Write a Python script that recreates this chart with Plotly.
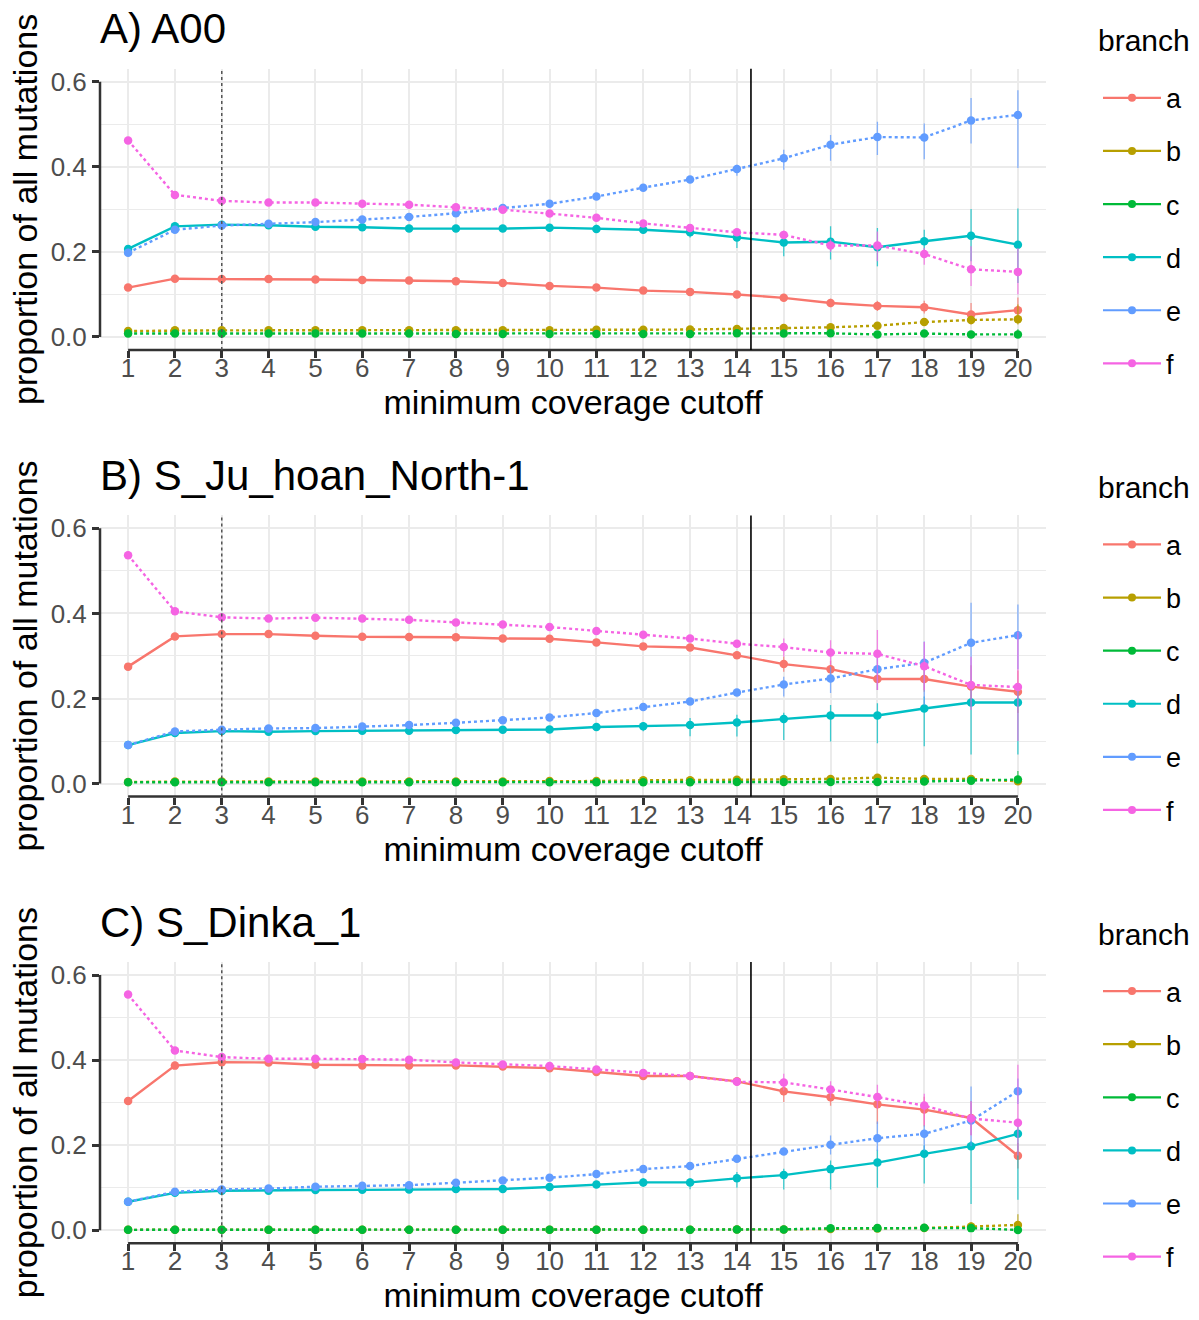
import plotly.graph_objects as go

# ---------------- data ----------------
cutoffs = list(range(1, 21))
tick_labels = [str(c) for c in cutoffs]
branches = ["a", "b", "c", "d", "e", "f"]
panel_titles = ["A) A00", "B) S_Ju_hoan_North-1", "C) S_Dinka_1"]

# Panel A (A00)
A_a = [0.116, 0.137, 0.136, 0.136, 0.135, 0.134, 0.133, 0.131, 0.127, 0.120, 0.116, 0.109, 0.106, 0.100, 0.092, 0.080, 0.073, 0.070, 0.053, 0.063]
A_b = [0.014, 0.0156, 0.0156, 0.0156, 0.0156, 0.0156, 0.0156, 0.0156, 0.0156, 0.016, 0.017, 0.017, 0.0175, 0.0187, 0.021, 0.0227, 0.0266, 0.035, 0.040, 0.0414]
A_c = [0.008, 0.008, 0.008, 0.008, 0.008, 0.008, 0.008, 0.007, 0.007, 0.007, 0.007, 0.007, 0.007, 0.0086, 0.008, 0.0086, 0.006, 0.008, 0.006, 0.006]
A_d = [0.207, 0.260, 0.264, 0.2625, 0.259, 0.258, 0.255, 0.2547, 0.2547, 0.257, 0.254, 0.252, 0.246, 0.234, 0.222, 0.224, 0.211, 0.225, 0.238, 0.217]
A_e = [0.198, 0.252, 0.262, 0.266, 0.270, 0.276, 0.282, 0.291, 0.303, 0.313, 0.330, 0.351, 0.370, 0.395, 0.420, 0.452, 0.470, 0.469, 0.509, 0.522]
A_f = [0.462, 0.334, 0.320, 0.316, 0.316, 0.313, 0.311, 0.305, 0.299, 0.290, 0.280, 0.267, 0.256, 0.246, 0.240, 0.215, 0.215, 0.195, 0.159, 0.153]
# error margins (upper / lower)
A_a_up = [0.002, 0.002, 0.002, 0.002, 0.002, 0.002, 0.002, 0.003, 0.003, 0.003, 0.004, 0.004, 0.005, 0.006, 0.008, 0.010, 0.012, 0.015, 0.027, 0.030]
A_a_dn = [0.002, 0.002, 0.002, 0.002, 0.002, 0.002, 0.002, 0.003, 0.003, 0.003, 0.004, 0.004, 0.005, 0.006, 0.008, 0.010, 0.012, 0.015, 0.023, 0.025]
A_b_up = [0.001, 0.001, 0.001, 0.001, 0.001, 0.001, 0.001, 0.001, 0.001, 0.001, 0.002, 0.002, 0.002, 0.002, 0.003, 0.003, 0.004, 0.006, 0.010, 0.035]
A_b_dn = [0.001, 0.001, 0.001, 0.001, 0.001, 0.001, 0.001, 0.001, 0.001, 0.001, 0.002, 0.002, 0.002, 0.002, 0.003, 0.003, 0.004, 0.006, 0.010, 0.012]
A_c_up = [0.001, 0.001, 0.001, 0.001, 0.001, 0.001, 0.001, 0.001, 0.001, 0.001, 0.001, 0.001, 0.001, 0.002, 0.002, 0.002, 0.002, 0.003, 0.004, 0.012]
A_c_dn = [0.001, 0.001, 0.001, 0.001, 0.001, 0.001, 0.001, 0.001, 0.001, 0.001, 0.001, 0.001, 0.001, 0.002, 0.002, 0.002, 0.002, 0.003, 0.004, 0.005]
A_d_up = [0.003, 0.003, 0.003, 0.003, 0.003, 0.003, 0.004, 0.004, 0.005, 0.006, 0.010, 0.010, 0.012, 0.014, 0.019, 0.036, 0.045, 0.027, 0.063, 0.085]
A_d_dn = [0.003, 0.003, 0.003, 0.003, 0.003, 0.003, 0.004, 0.004, 0.005, 0.006, 0.008, 0.010, 0.012, 0.025, 0.032, 0.042, 0.045, 0.027, 0.060, 0.090]
A_e_up = [0.003, 0.003, 0.003, 0.003, 0.003, 0.003, 0.004, 0.004, 0.005, 0.006, 0.006, 0.006, 0.007, 0.010, 0.020, 0.023, 0.036, 0.033, 0.053, 0.058]
A_e_dn = [0.003, 0.003, 0.003, 0.003, 0.003, 0.003, 0.004, 0.004, 0.005, 0.006, 0.006, 0.006, 0.007, 0.016, 0.027, 0.038, 0.042, 0.051, 0.054, 0.125]
A_f_up = [0.004, 0.003, 0.003, 0.003, 0.003, 0.003, 0.003, 0.004, 0.004, 0.005, 0.005, 0.006, 0.007, 0.008, 0.010, 0.015, 0.033, 0.014, 0.054, 0.056]
A_f_dn = [0.004, 0.003, 0.003, 0.003, 0.003, 0.003, 0.003, 0.004, 0.004, 0.005, 0.005, 0.006, 0.007, 0.008, 0.010, 0.015, 0.037, 0.025, 0.039, 0.053]

# Panel B (S_Ju_hoan_North-1)
B_a = [0.275, 0.346, 0.3515, 0.3515, 0.3476, 0.345, 0.3445, 0.344, 0.341, 0.3406, 0.332, 0.3226, 0.320, 0.3015, 0.281, 0.269, 0.246, 0.246, 0.228, 0.216]
B_b = [0.004, 0.005, 0.005, 0.005, 0.005, 0.005, 0.005, 0.005, 0.005, 0.006, 0.006, 0.008, 0.008, 0.009, 0.010, 0.011, 0.014, 0.011, 0.011, 0.0055]
B_c = [0.003, 0.003, 0.003, 0.003, 0.003, 0.003, 0.003, 0.003, 0.003, 0.003, 0.003, 0.003, 0.003, 0.004, 0.004, 0.004, 0.004, 0.005, 0.007, 0.0094]
B_d = [0.0906, 0.119, 0.1234, 0.122, 0.1234, 0.124, 0.124, 0.1258, 0.1266, 0.1273, 0.133, 0.135, 0.1375, 0.1437, 0.1516, 0.160, 0.160, 0.1766, 0.1906, 0.1906]
B_e = [0.0906, 0.1226, 0.1266, 0.1297, 0.1305, 0.134, 0.1375, 0.143, 0.149, 0.1555, 0.166, 0.180, 0.193, 0.214, 0.233, 0.247, 0.269, 0.284, 0.331, 0.349]
B_f = [0.537, 0.405, 0.391, 0.388, 0.390, 0.388, 0.385, 0.379, 0.374, 0.368, 0.359, 0.350, 0.341, 0.329, 0.321, 0.308, 0.305, 0.276, 0.232, 0.227]
B_a_up = [0.003, 0.003, 0.003, 0.003, 0.003, 0.003, 0.003, 0.003, 0.004, 0.004, 0.004, 0.005, 0.005, 0.008, 0.017, 0.020, 0.021, 0.025, 0.050, 0.050]
B_a_dn = [0.003, 0.003, 0.003, 0.003, 0.003, 0.003, 0.003, 0.003, 0.004, 0.004, 0.004, 0.005, 0.005, 0.008, 0.018, 0.020, 0.026, 0.030, 0.040, 0.050]
B_b_up = [0.001, 0.001, 0.001, 0.001, 0.001, 0.001, 0.001, 0.001, 0.001, 0.001, 0.001, 0.002, 0.002, 0.002, 0.003, 0.003, 0.004, 0.004, 0.005, 0.006]
B_b_dn = [0.001, 0.001, 0.001, 0.001, 0.001, 0.001, 0.001, 0.001, 0.001, 0.001, 0.001, 0.002, 0.002, 0.002, 0.003, 0.003, 0.004, 0.004, 0.005, 0.004]
B_c_up = [0.001, 0.001, 0.001, 0.001, 0.001, 0.001, 0.001, 0.001, 0.001, 0.001, 0.001, 0.001, 0.001, 0.001, 0.002, 0.002, 0.002, 0.003, 0.004, 0.020]
B_c_dn = [0.001, 0.001, 0.001, 0.001, 0.001, 0.001, 0.001, 0.001, 0.001, 0.001, 0.001, 0.001, 0.001, 0.001, 0.002, 0.002, 0.002, 0.003, 0.004, 0.006]
B_d_up = [0.002, 0.003, 0.003, 0.003, 0.003, 0.003, 0.003, 0.004, 0.004, 0.005, 0.008, 0.010, 0.017, 0.018, 0.015, 0.025, 0.029, 0.028, 0.040, 0.040]
B_d_dn = [0.002, 0.003, 0.003, 0.003, 0.003, 0.003, 0.003, 0.004, 0.004, 0.005, 0.008, 0.012, 0.026, 0.033, 0.049, 0.061, 0.065, 0.089, 0.122, 0.122]
B_e_up = [0.002, 0.003, 0.003, 0.003, 0.003, 0.003, 0.003, 0.004, 0.004, 0.004, 0.005, 0.005, 0.006, 0.008, 0.018, 0.028, 0.029, 0.050, 0.094, 0.072]
B_e_dn = [0.002, 0.003, 0.003, 0.003, 0.003, 0.003, 0.003, 0.004, 0.004, 0.004, 0.005, 0.005, 0.006, 0.008, 0.028, 0.034, 0.049, 0.100, 0.095, 0.080]
B_f_up = [0.004, 0.003, 0.003, 0.003, 0.003, 0.003, 0.003, 0.004, 0.004, 0.004, 0.005, 0.005, 0.005, 0.006, 0.020, 0.029, 0.056, 0.057, 0.066, 0.130]
B_f_dn = [0.004, 0.003, 0.003, 0.003, 0.003, 0.003, 0.003, 0.004, 0.004, 0.004, 0.005, 0.005, 0.005, 0.006, 0.023, 0.029, 0.085, 0.056, 0.059, 0.127]

# Panel C (S_Dinka_1)
C_a = [0.304, 0.387, 0.395, 0.3945, 0.389, 0.3875, 0.3875, 0.3875, 0.385, 0.381, 0.372, 0.3625, 0.3625, 0.350, 0.3266, 0.3125, 0.296, 0.2836, 0.264, 0.175]
C_b = [0.001, 0.001, 0.001, 0.001, 0.001, 0.001, 0.001, 0.001, 0.001, 0.001, 0.001, 0.001, 0.001, 0.002, 0.002, 0.003, 0.004, 0.0055, 0.0086, 0.0125]
C_c = [0.001, 0.001, 0.001, 0.001, 0.001, 0.001, 0.001, 0.001, 0.001, 0.001, 0.001, 0.001, 0.001, 0.002, 0.002, 0.0047, 0.005, 0.006, 0.005, 0.0008]
C_d = [0.067, 0.088, 0.093, 0.093, 0.0945, 0.095, 0.096, 0.0968, 0.097, 0.1016, 0.1078, 0.1125, 0.1125, 0.122, 0.1297, 0.1437, 0.159, 0.1797, 0.1977, 0.2266]
C_e = [0.067, 0.0906, 0.096, 0.098, 0.1023, 0.1047, 0.106, 0.1117, 0.117, 0.1234, 0.132, 0.1437, 0.1508, 0.168, 0.185, 0.2008, 0.2164, 0.2266, 0.258, 0.327]
C_f = [0.554, 0.4226, 0.407, 0.403, 0.403, 0.4023, 0.401, 0.3945, 0.3898, 0.386, 0.378, 0.3695, 0.3625, 0.349, 0.3476, 0.331, 0.313, 0.293, 0.2625, 0.253]
C_a_up = [0.003, 0.003, 0.003, 0.003, 0.003, 0.003, 0.003, 0.003, 0.004, 0.004, 0.004, 0.005, 0.005, 0.005, 0.018, 0.020, 0.021, 0.030, 0.040, 0.030]
C_a_dn = [0.003, 0.003, 0.003, 0.003, 0.003, 0.003, 0.003, 0.003, 0.004, 0.004, 0.004, 0.005, 0.005, 0.005, 0.025, 0.020, 0.046, 0.040, 0.040, 0.030]
C_b_up = [0.001, 0.001, 0.001, 0.001, 0.001, 0.001, 0.001, 0.001, 0.001, 0.001, 0.001, 0.001, 0.001, 0.001, 0.002, 0.002, 0.003, 0.004, 0.010, 0.025]
C_b_dn = [0.001, 0.001, 0.001, 0.001, 0.001, 0.001, 0.001, 0.001, 0.001, 0.001, 0.001, 0.001, 0.001, 0.001, 0.002, 0.002, 0.003, 0.004, 0.006, 0.008]
C_c_up = [0.001, 0.001, 0.001, 0.001, 0.001, 0.001, 0.001, 0.001, 0.001, 0.001, 0.001, 0.001, 0.001, 0.001, 0.002, 0.002, 0.003, 0.004, 0.005, 0.004]
C_c_dn = [0.001, 0.001, 0.001, 0.001, 0.001, 0.001, 0.001, 0.001, 0.001, 0.001, 0.001, 0.001, 0.001, 0.001, 0.002, 0.002, 0.003, 0.004, 0.005, 0.001]
C_d_up = [0.002, 0.002, 0.003, 0.003, 0.003, 0.003, 0.003, 0.003, 0.004, 0.004, 0.006, 0.010, 0.010, 0.015, 0.015, 0.020, 0.030, 0.020, 0.012, 0.030]
C_d_dn = [0.002, 0.002, 0.003, 0.003, 0.003, 0.003, 0.003, 0.003, 0.004, 0.004, 0.008, 0.010, 0.016, 0.022, 0.034, 0.048, 0.059, 0.070, 0.136, 0.155]
C_e_up = [0.002, 0.002, 0.003, 0.003, 0.003, 0.003, 0.003, 0.003, 0.004, 0.004, 0.004, 0.005, 0.005, 0.006, 0.008, 0.022, 0.039, 0.020, 0.080, 0.030]
C_e_dn = [0.002, 0.002, 0.003, 0.003, 0.003, 0.003, 0.003, 0.003, 0.004, 0.004, 0.004, 0.005, 0.005, 0.006, 0.008, 0.023, 0.030, 0.040, 0.060, 0.030]
C_f_up = [0.004, 0.003, 0.003, 0.003, 0.003, 0.003, 0.003, 0.003, 0.004, 0.004, 0.004, 0.005, 0.005, 0.010, 0.020, 0.019, 0.029, 0.028, 0.040, 0.136]
C_f_dn = [0.004, 0.003, 0.003, 0.003, 0.003, 0.003, 0.003, 0.003, 0.004, 0.004, 0.004, 0.005, 0.005, 0.010, 0.019, 0.020, 0.027, 0.046, 0.040, 0.077]

panel_values = [
    [A_a, A_b, A_c, A_d, A_e, A_f],
    [B_a, B_b, B_c, B_d, B_e, B_f],
    [C_a, C_b, C_c, C_d, C_e, C_f],
]
panel_err_up = [
    [A_a_up, A_b_up, A_c_up, A_d_up, A_e_up, A_f_up],
    [B_a_up, B_b_up, B_c_up, B_d_up, B_e_up, B_f_up],
    [C_a_up, C_b_up, C_c_up, C_d_up, C_e_up, C_f_up],
]
panel_err_dn = [
    [A_a_dn, A_b_dn, A_c_dn, A_d_dn, A_e_dn, A_f_dn],
    [B_a_dn, B_b_dn, B_c_dn, B_d_dn, B_e_dn, B_f_dn],
    [C_a_dn, C_b_dn, C_c_dn, C_d_dn, C_e_dn, C_f_dn],
]
dotted_cutoff = 3
solid_cutoff = 14.3

# ---------------- styling ----------------
colors = ["#F8766D", "#B79F00", "#00BA38", "#00BFC4", "#619CFF", "#F564E3"]
err_colors = ["rgba(248,118,109,0.75)", "rgba(183,159,0,0.75)", "rgba(0,186,56,0.75)",
              "rgba(0,191,196,0.75)", "rgba(97,156,255,0.75)", "rgba(245,100,227,0.75)"]
dashes = ["solid", "dot", "dot", "solid", "dot", "dot"]
FONT = "Liberation Sans, Arial, Helvetica, sans-serif"
W, H = 1199, 1320

panel_left, panel_right = 100, 1046
panel_tops = [67, 515, 963]
panel_h = 282
y_range = [-0.0305, 0.6304]

fig = go.Figure()
shapes = []
annotations = []
layout_axes = {}

for p in range(3):
    xa = "x" if p == 0 else f"x{p + 1}"
    ya = "y" if p == 0 else f"y{p + 1}"
    lg = "legend" if p == 0 else f"legend{p + 1}"
    for i, br in enumerate(branches):
        fig.add_trace(go.Scatter(
            x=cutoffs, y=panel_values[p][i], xaxis=xa, yaxis=ya,
            mode="lines+markers",
            line=dict(color=colors[i], width=2.4, dash=dashes[i]),
            marker=dict(color=colors[i], size=8.5),
            error_y=dict(type="data", symmetric=False,
                         array=panel_err_up[p][i], arrayminus=panel_err_dn[p][i],
                         color=err_colors[i], thickness=1.3, width=0),
            showlegend=False, name=br, legendgroup=f"{p}{br}", legend=lg,
        ))
    # legend entries (solid keys)
    for i, br in enumerate(branches):
        fig.add_trace(go.Scatter(
            x=[None], y=[None], xaxis=xa, yaxis=ya, mode="lines+markers",
            line=dict(color=colors[i], width=2.2),
            marker=dict(color=colors[i], size=8),
            name=br, legendgroup=f"{p}{br}", legend=lg, showlegend=True,
        ))

    top = panel_tops[p]
    bottom = top + panel_h
    xdom = [panel_left / W, panel_right / W]
    ydom = [1 - bottom / H, 1 - top / H]
    xkey = "xaxis" if p == 0 else f"xaxis{p + 1}"
    ykey = "yaxis" if p == 0 else f"yaxis{p + 1}"
    layout_axes[xkey] = dict(
        domain=xdom, anchor=ya, range=[0.4, 20.6],
        tickmode="array", tickvals=cutoffs, ticktext=tick_labels,
        showgrid=True, gridcolor="#EBEBEB", gridwidth=1.5,
        ticks="outside", ticklen=7, tickwidth=3, tickcolor="#333333",
        ticklabelstandoff=-12,
        tickfont=dict(family=FONT, size=26, color="#4D4D4D"),
        zeroline=False, showline=False,
        title=dict(text="minimum coverage cutoff", font=dict(family=FONT, size=34, color="black"), standoff=5),
    )
    layout_axes[ykey] = dict(
        domain=ydom, anchor=xa, range=y_range,
        tickmode="array", tickvals=[0, 0.2, 0.4, 0.6], ticktext=["0.0", "0.2", "0.4", "0.6"],
        showgrid=True, gridcolor="#EBEBEB", gridwidth=1.5,
        minor=dict(tickvals=[0.1, 0.3, 0.5], showgrid=True, gridcolor="#EBEBEB", gridwidth=1, ticks=""),
        ticks="outside", ticklen=7, tickwidth=3, tickcolor="#333333",
        tickfont=dict(family=FONT, size=26, color="#4D4D4D"),
        zeroline=False, showline=False,
        title=dict(text="proportion of all mutations", font=dict(family=FONT, size=34, color="black"), standoff=2),
    )
    # capped axis lines
    shapes.append(dict(type="line", xref=f"{xa} domain", yref=ya, x0=0, x1=0, y0=0, y1=0.6,
                       line=dict(color="#333333", width=2.5)))
    shapes.append(dict(type="line", xref=xa, yref=f"{ya} domain", x0=1, x1=20, y0=0, y1=0,
                       line=dict(color="#333333", width=2.5)))
    # reference lines
    shapes.append(dict(type="line", xref=xa, yref=f"{ya} domain", x0=dotted_cutoff, x1=dotted_cutoff, y0=0, y1=1,
                       line=dict(color="#555555", width=1.5, dash="dot")))
    shapes.append(dict(type="line", xref=xa, yref=f"{ya} domain", x0=solid_cutoff, x1=solid_cutoff, y0=0, y1=1,
                       line=dict(color="black", width=1.6)))
    # panel title
    annotations.append(dict(text=panel_titles[p], xref="paper", yref="paper",
                            x=(panel_left - 2) / W, y=1 - (top - 40) / H, xanchor="left", yanchor="middle",
                            showarrow=False, font=dict(family=FONT, size=42, color="black")))
    # legend title
    annotations.append(dict(text="branch", xref="paper", yref="paper",
                            x=1096 / W, y=1 - (top - 28) / H, xanchor="left", yanchor="middle",
                            showarrow=False, font=dict(family=FONT, size=30, color="black")))
    # legend
    layout_axes[lg] = dict(
        font=dict(family=FONT, size=27, color="black"),
        x=1098 / W, xanchor="left", y=1 - (top + 5) / H, yanchor="top",
        traceorder="grouped", tracegroupgap=15, itemwidth=58, bgcolor="rgba(0,0,0,0)",
    )

fig.update_layout(
    width=W, height=H,
    margin=dict(l=0, r=0, t=0, b=0),
    paper_bgcolor="white", plot_bgcolor="white",
    font=dict(family=FONT),
    shapes=shapes, annotations=annotations,
    showlegend=True,
    **layout_axes,
)

fig.write_html("out.html")
